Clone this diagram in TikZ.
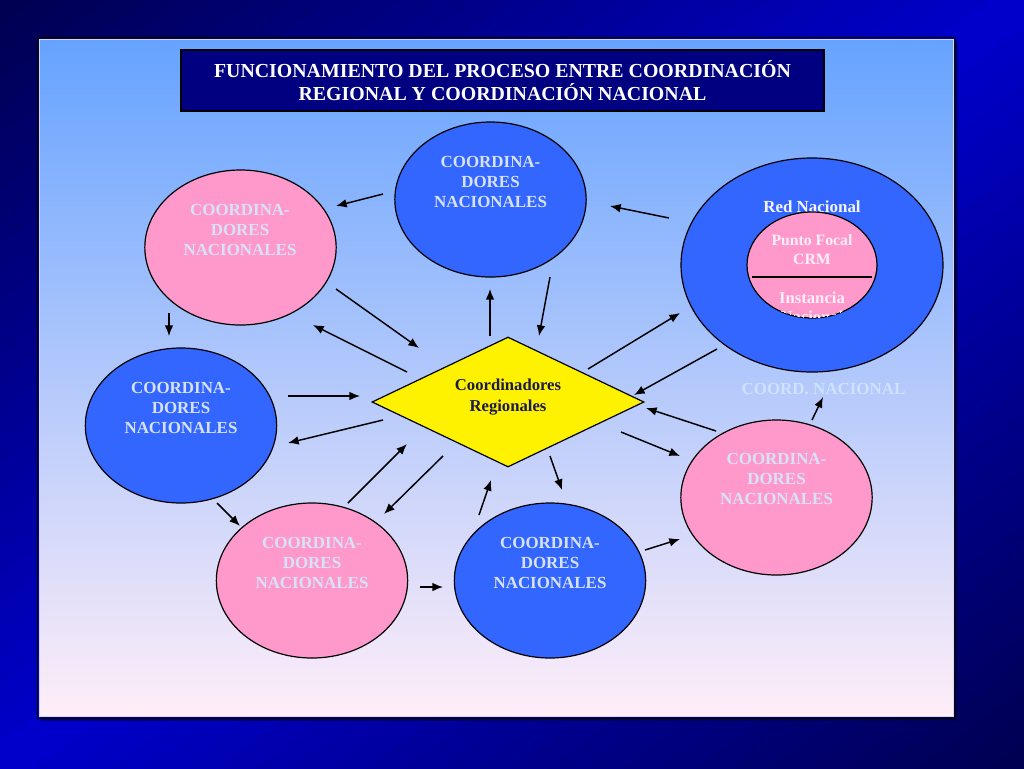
\documentclass[tikz,border=0pt]{standalone}
\usepackage{fontspec}
\setmainfont{Liberation Serif}
\usetikzlibrary{shapes.geometric,arrows.meta}
\definecolor{bgA}{HTML}{0000CC}
\definecolor{bgC}{HTML}{000050}
\definecolor{paneltop}{HTML}{66A3FF}
\definecolor{panelmid}{HTML}{8EC0F8}
\definecolor{panelbot}{HTML}{FFEEF8}
\definecolor{titlefill}{HTML}{000080}
\definecolor{pinkfill}{HTML}{FF99CC}
\definecolor{bluefill}{HTML}{3366FF}
\definecolor{lbltxt}{HTML}{D6E2F8}
\definecolor{innertxt}{HTML}{FFF0F8}
\definecolor{redtxt}{HTML}{F4F4FF}
\definecolor{diamtxt}{HTML}{1A1A4D}
\definecolor{coordtxt}{HTML}{CCE4FF}
\definecolor{panelline}{HTML}{D8D8E8}
\tikzset{
  ell/.style={ellipse, draw=black, line width=0.9pt, minimum width=143.5pt, minimum height=116.25pt, inner sep=0pt},
  pinkell/.style={ell, fill=pinkfill},
  blueell/.style={ell, fill=bluefill},
  lbl/.style={font=\fontsize{12.7}{15}\selectfont\bfseries, text=lbltxt, align=center, inner sep=0pt},
  arr/.style={-{Latex[length=8pt,width=6.5pt]}, line width=1.1pt, black},
}
\begin{document}
\begin{tikzpicture}[x=0.75pt,y=-0.75pt]
\useasboundingbox (0,0) rectangle (1024,768);
% background: bright band along the anti-diagonal, dark at top-left and bottom-right
\begin{scope}
  \clip (0,0) rectangle (1024,768);
  \fill[bgA] (0,0) rectangle (1024,768);
  \foreach \i in {0,...,59} {
    \pgfmathsetmacro\ta{-660+22*\i}
    \pgfmathsetmacro\tb{\ta+23}
    \pgfmathsetmacro\pc{min(100,abs(\ta+11)/614*100)}
    \fill[bgC!\pc!bgA] ({512+0.6*\ta-800},{384+0.8*\ta+600}) -- ({512+0.6*\ta+800},{384+0.8*\ta-600})
      -- ({512+0.6*\tb+800},{384+0.8*\tb-600}) -- ({512+0.6*\tb-800},{384+0.8*\tb+600}) -- cycle;
  }
\end{scope}
% panel
\fill[black!70!blue, opacity=0.6] (41,41) rectangle (958,721);
\path[top color=paneltop, middle color=panelmid, bottom color=panelbot, draw=panelline, line width=1.2pt] (39.5,39.5) rectangle (953.5,716.5);
\draw[black, line width=0.9pt] (37.5,37.5) rectangle (955.5,718.5);
% title
\node[draw=black, line width=0.8pt, fill=titlefill, minimum width=482.25pt, minimum height=45.75pt, inner sep=0pt,
      text=white, font=\fontsize{14.9}{17.3}\selectfont\bfseries, align=center] (title) at (502.5,80.5)
  {FUNCIONAMIENTO DEL PROCESO ENTRE COORDINACIÓN\\REGIONAL Y COORDINACIÓN NACIONAL};
% ellipses
\node[pinkell] (n1) at (240.5,247.5) {};
\node[lbl] (t1) at (240,230) {COORDINA-\\DORES\\NACIONALES};
\node[blueell] (n2) at (490.5,199.5) {};
\node[lbl] (t2) at (490.5,182) {COORDINA-\\DORES\\NACIONALES};
\node[blueell] (n3) at (181,425.5) {};
\node[lbl] (t3) at (181,408) {COORDINA-\\DORES\\NACIONALES};
\node[pinkell] (n4) at (312,580.5) {};
\node[lbl] (t4) at (312,563) {COORDINA-\\DORES\\NACIONALES};
\node[blueell] (n5) at (550,580.5) {};
\node[lbl] (t5) at (550,563) {COORDINA-\\DORES\\NACIONALES};
\node[pinkell] (n6) at (776.5,497.5) {};
\node[lbl] (t6) at (776.5,479) {COORDINA-\\DORES\\NACIONALES};
% big red nacional
\node[ellipse, draw=black, line width=0.9pt, fill=bluefill, minimum width=196.5pt, minimum height=160.5pt, inner sep=0pt] (big) at (812,265) {};
\node[font=\fontsize{12.7}{15}\selectfont\bfseries, text=redtxt, inner sep=0pt] (red) at (812,207) {Red Nacional};
\node[ellipse, draw=black, line width=0.9pt, fill=pinkfill, minimum width=97.5pt, minimum height=79.5pt, inner sep=0pt] (inner) at (812,265) {};
\node[font=\fontsize{11.8}{14.3}\selectfont\bfseries, text=innertxt, align=center, inner sep=0pt] (pf) at (812,249.5) {Punto Focal\\CRM};
\draw[black, line width=0.9pt] (752,277) -- (872,277);
\begin{scope}
  \clip (812,265) ellipse (64.5 and 52.5);
  \node[font=\fontsize{12.5}{14.6}\selectfont\bfseries, text=innertxt, align=center, inner sep=0pt, anchor=base] (inst) at (812,322.5) {Instancia\\Nacional};
\end{scope}
\node[font=\fontsize{12.7}{15}\selectfont\bfseries, text=coordtxt, inner sep=0pt] (cn) at (823.5,389) {COORD. NACIONAL};
% diamond
\node[diamond, draw=black, line width=0.9pt, fill=yellow, minimum width=204pt, minimum height=97.5pt, inner sep=0pt] (dia) at (508,402) {};
\node[font=\fontsize{12.5}{15.7}\selectfont\bfseries, text=diamtxt, align=center, inner sep=0pt] (dt) at (508,397) {Coordinadores\\Regionales};
% arrows
\foreach \n/\sx/\sy/\ex/\ey in {
  1/383/194/336/206, 2/169/313/169/336, 3/336/289/419/348, 4/407/372/313/325,
  5/669/218/610/206, 6/490/336/490/289, 7/550/277/539/336, 8/588/369/680/313,
  9/717/349/634/395, 10/288/396/360/396, 11/383/420/288/443, 12/348/503/407/444,
  13/443/456/384/514, 14/217/503/240/526, 15/716/431/646/408, 16/621/432/680/456,
  17/550/456/562/490, 18/479/515/491/480, 19/645/550/680/539, 20/420/587/443/587,
  21/812/420/823/397}{
  \coordinate (s\n) at (\sx,\sy);
  \coordinate (e\n) at (\ex,\ey);
  \draw[arr] (s\n) -- (e\n);
}
\end{tikzpicture}
\end{document}
